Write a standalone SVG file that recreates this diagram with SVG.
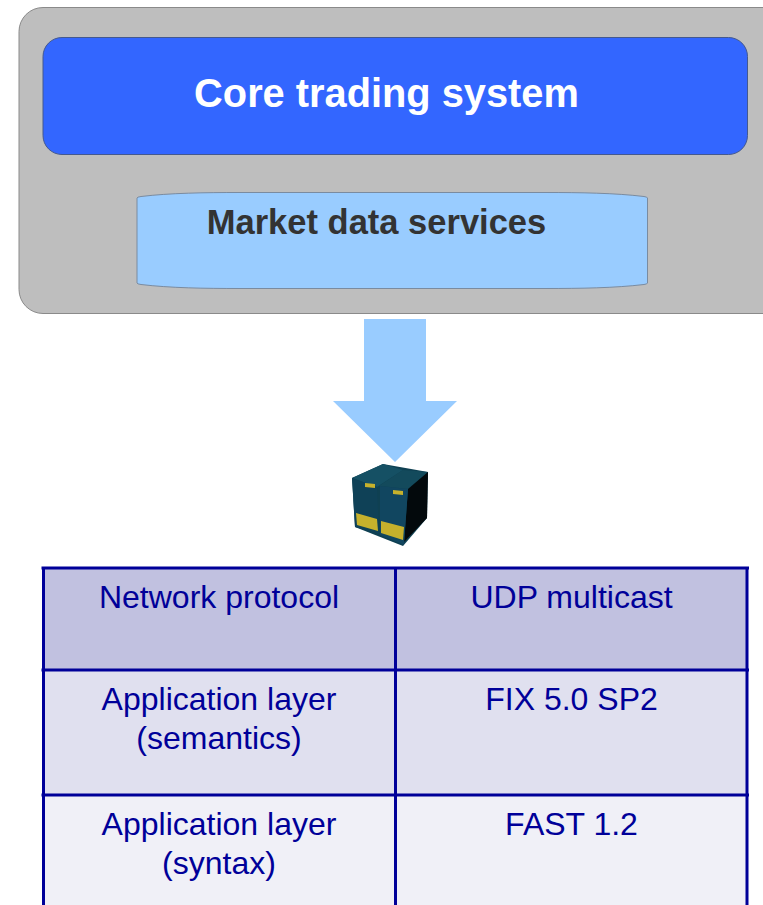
<svg xmlns="http://www.w3.org/2000/svg" width="763" height="905" viewBox="0 0 763 905">
<style>
text{font-family:"Liberation Sans",Arial,sans-serif}
.c{font-size:32px;fill:#000099;text-anchor:middle}
.g{stroke:#000099;stroke-width:3;fill:none}
</style>
<rect width="763" height="905" fill="#fff"/>
<g id="outer"><rect x="19" y="7.500" width="770" height="306" rx="24" fill="#bebebe" stroke="#8a8a8a" stroke-width="1"/></g>
<g id="core"><rect x="43" y="37.500" width="704.500" height="117" rx="19" fill="#3366ff" stroke="#44598f" stroke-width="1"/>
<text x="386.500" y="107" font-size="39.800" font-weight="bold" fill="#fff" text-anchor="middle">Core trading system</text></g>
<g id="market"><path d="M137 198Q137 197 141 196.500C170 193 205 192.500 240 192.500H545C580 192.500 615 193 644 196.500Q647.500 197 647.500 198V283Q647.500 284 644 284.500C615 288 580 288.500 545 288.500H240C205 288.500 170 288 141 284.500Q137 284 137 283Z" fill="#99ccff" stroke="#7a8ba0" stroke-width="1"/>
<text x="376.500" y="234" font-size="34.500" font-weight="bold" fill="#333" text-anchor="middle">Market data services</text></g>
<g id="connectors"><path d="M364 319H426V401H457L395 462L333 401H364Z" fill="#99ccff"/></g>
<g id="server">
<path d="M352 478L383 464L428 472L427 518L403 546L355 527Z" fill="#0f4052"/>
<path d="M352 478L383 464L403 470L377 487Z" fill="#155064"/>
<path d="M379 486L403 470L428 472L408 489Z" fill="#134a5c"/>
<path d="M408 489L428 472L427 518L404 542Z" fill="#03090c"/>
<path d="M352 478L377 487L379 534L355 527Z" fill="#0f4157"/>
<path d="M380 486L408 489L404 545L380 535Z" fill="#114660"/>
<path d="M356 513L377 519L378 531L357 525Z" fill="#c6b12c"/>
<path d="M381 521L404 527L403 540L381 533Z" fill="#c6b12c"/>
<path d="M365 483L375 484V488L365 487Z" fill="#c6b12c"/>
<path d="M393 490L403 491V495L393 494Z" fill="#c6b12c"/>
</g>
<g id="table">
<rect x="43" y="568" width="704.500" height="102" fill="#c1c1e0"/>
<rect x="43" y="670" width="704.500" height="125" fill="#e0e0ef"/>
<rect x="43" y="795" width="704.500" height="110" fill="#f0f0f7"/>
<path class="g" d="M41.500 568H749M41.500 670H749M41.500 795H749M43.500 568V905M395.500 568V905M747 568V905"/>
<text class="c" x="219" y="608">Network protocol</text>
<text class="c" x="571.500" y="608">UDP multicast</text>
<text class="c" x="219" y="710">Application layer</text>
<text class="c" x="219" y="749">(semantics)</text>
<text class="c" x="571.500" y="710">FIX 5.0 SP2</text>
<text class="c" x="219" y="835">Application layer</text>
<text class="c" x="219" y="874">(syntax)</text>
<text class="c" x="571.500" y="835">FAST 1.2</text>
</g>
</svg>
